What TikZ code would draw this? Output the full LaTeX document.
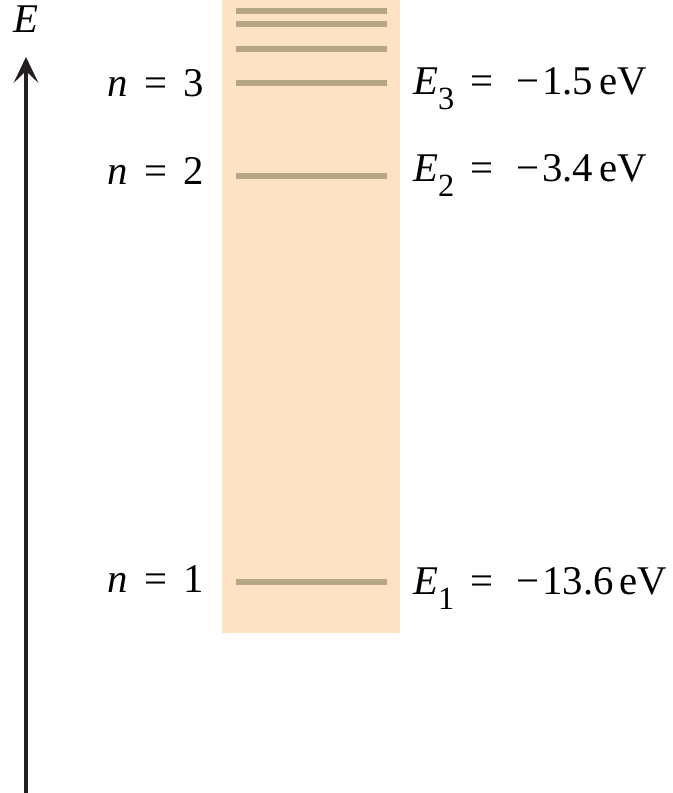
\documentclass[tikz,border=0pt]{standalone}
\usepackage{fontspec}
\setmainfont{Liberation Serif}
\usetikzlibrary{arrows.meta}
\definecolor{bandpeach}{HTML}{FDE3C4}
\definecolor{leveltan}{HTML}{B5A684}
\definecolor{axisgray}{HTML}{231F20}

\newcommand{\nlabel}[1]{\textit{n}\hspace{0.4em}=\hspace{0.4em}#1}
\newcommand{\elabel}[2]{\textit{E}\raisebox{-0.36em}{\fontsize{23}{26}\selectfont #1}\hspace{0.4em}=\hspace{0.55em}−\hspace{0.08em}#2\hspace{0.15em}eV}

\begin{document}
\begin{tikzpicture}[>={Stealth[length=0.65cm, width=0.62cm, inset=0.3cm]},
  lbl/.style={inner sep=0pt, font=\fontsize{29}{34}\selectfont}]

\useasboundingbox (0,0) rectangle (16.825,19.825);

% Background band
\fill[bandpeach] (5.55,4.0) rectangle (10.0,19.825);

% Energy levels
\foreach \y in {19.56,19.225,18.59,17.76,15.43,5.28}
  \draw[leveltan, line width=4.3pt] (5.9,\y) -- (9.675,\y);

% Energy axis
\coordinate (axbot) at (0.65,0);
\coordinate (axtop) at (0.65,18.4);
\draw[axisgray, line width=3.3pt, ->] (axbot) -- (axtop);
\node[lbl, anchor=base] (eaxis) at (0.65,19.0) {\textit{E}};

% Quantum numbers
\node[lbl, anchor=base east] (n3) at (5.1,17.4) {\nlabel{3}};
\node[lbl, anchor=base east] (n2) at (5.1,15.2) {\nlabel{2}};
\node[lbl, anchor=base east] (n1) at (5.1,5.0) {\nlabel{1}};

% Energies
\node[lbl, anchor=base west] (e3) at (10.325,17.45) {\elabel{3}{1.5}};
\node[lbl, anchor=base west] (e2) at (10.325,15.275) {\elabel{2}{3.4}};
\node[lbl, anchor=base west] (e1) at (10.325,4.95) {\elabel{1}{13.6}};

\end{tikzpicture}
\end{document}
